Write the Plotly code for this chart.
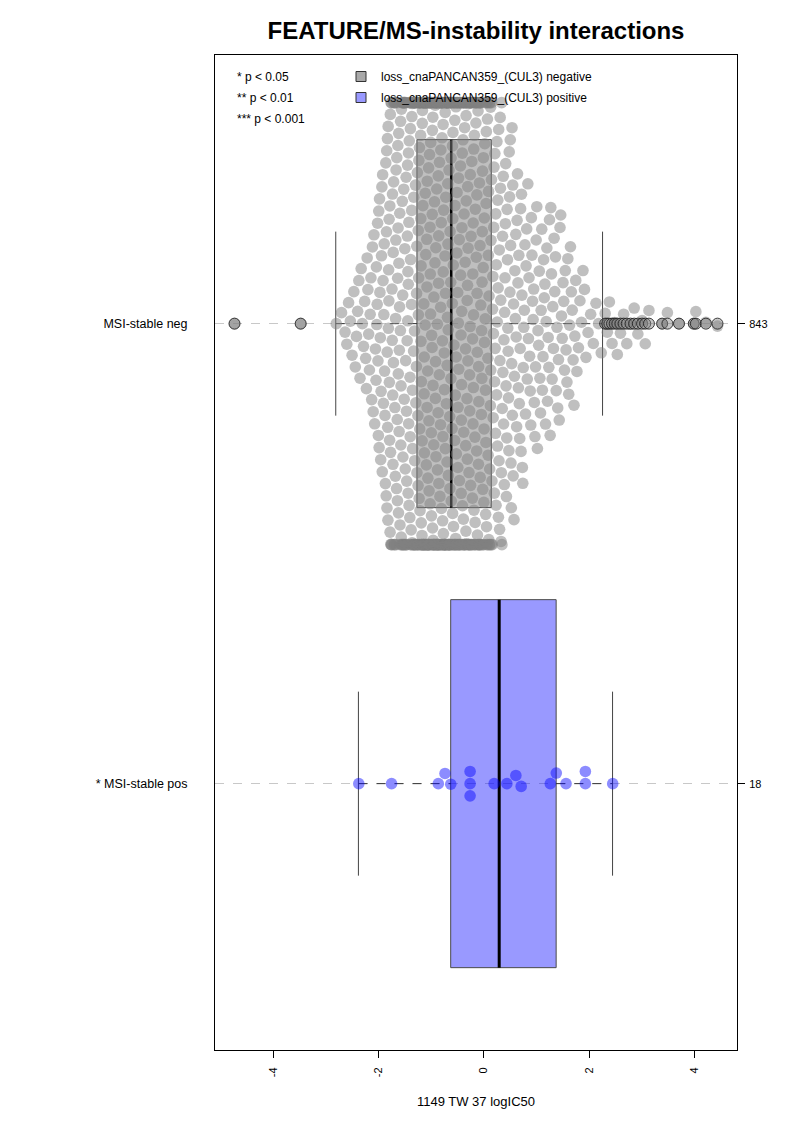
import numpy as np
import plotly.graph_objects as go

# ---------------- data ----------------
group_labels = ["MSI-stable neg", "* MSI-stable pos"]
group_pos = [2, 1]

# MSI-stable neg (loss_cnaPANCAN359_(CUL3) negative): histogram of the swarm, logIC50
neg_bin_edges = [-2.85, -2.65, -2.45, -2.25, -2.05, -1.85, -1.65, -1.45, -1.25, -1.05,
                 -0.85, -0.65, -0.45, -0.25, -0.05, 0.15, 0.35, 0.55, 0.75, 0.95,
                 1.15, 1.35, 1.55, 1.75, 1.95, 2.25]
neg_bin_counts = [2, 6, 9, 14, 27, 44, 50, 56, 70, 70,
                  70, 62, 58, 54, 47, 36, 30, 24, 18, 17,
                  16, 14, 12, 7, 6]
# points beyond the whiskers (drawn as outlined circles)
neg_outliers = [-4.73, -3.475, 2.30, 2.34, 2.38, 2.43, 2.48, 2.53, 2.59, 2.65, 2.71,
                2.78, 2.85, 2.92, 3.00, 3.06, 3.13, 3.38, 3.48, 3.70, 3.98, 4.02,
                4.21, 4.43]

# MSI-stable pos (loss_cnaPANCAN359_(CUL3) positive)
pos_values = [-2.373, -1.751, -0.865, -0.738, -0.629, -0.262, -0.262, -0.262, 0.194,
              0.435, 0.606, 0.707, 1.259, 1.373, 1.557, 1.924, 1.924, 2.443]

# box statistics per group (neg, pos)
box_q1 = [-1.27, -0.63]
box_median = [-0.62, 0.29]
box_q3 = [0.14, 1.37]
whisker_lo = [-2.81, -2.38]
whisker_hi = [2.25, 2.44]

legend_names = ["loss_cnaPANCAN359_(CUL3) negative", "loss_cnaPANCAN359_(CUL3) positive"]
p_notes = ["* p < 0.05", "** p < 0.01", "*** p < 0.001"]
x_ticks = [-4, -2, 0, 2, 4]

# ---------------- helpers ----------------
neg_core = []
for a, b, n in zip(neg_bin_edges[:-1], neg_bin_edges[1:], neg_bin_counts):
    for k in range(n):
        neg_core.append(a + (k + 0.5) * (b - a) / n)
neg_values = neg_core + neg_outliers

W, H = 793, 1122
PL, PR, PT, PB = 215, 737, 55, 1050        # plot frame in page pixels
ML, MT, MR, MB = PL, PT, W - PR, H - PB
XR = [-5.10, 4.80]
YR = [0.421, 2.584]
px_x = (PR - PL) / (XR[1] - XR[0])
px_y = (PB - PT) / (YR[1] - YR[0])
D = 12.2          # swarm spacing in px
GUTTER = 221.0    # corral half width in px


def swarm(values):
    x = np.asarray(values, float) * px_x
    order = np.argsort(x, kind="stable")
    xs = x[order]
    ys = np.zeros(len(xs))
    start = 0
    for i in range(1, len(xs)):
        xi = xs[i]
        while xi - xs[start] >= D:
            start += 1
        if start >= i:
            continue
        pxv = xs[start:i]
        pyv = ys[start:i]
        o = np.argsort(np.abs(pyv), kind="stable")
        pxv, pyv = pxv[o], pyv[o]
        off = np.sqrt(np.maximum(D * D - (xi - pxv) ** 2, 0))
        cand = np.concatenate([[0.0], pyv + off, pyv - off])
        bad = np.any(np.abs(cand[:, None] - pyv[None, :]) < off[None, :] - 1e-7, axis=1)
        cand = np.where(bad, np.inf, cand)
        ys[i] = cand[np.argmin(np.abs(cand))]
    out = np.empty_like(ys)
    out[order] = ys
    out = np.clip(out, -GUTTER, GUTTER)
    return out / px_y


neg_y = group_pos[0] + swarm(neg_values)
pos_y = group_pos[1] + swarm(pos_values)

fig = go.Figure()

box_fill = ["rgba(128,128,128,0.5)", "rgba(0,0,255,0.4)"]
median_w = [2.5, 3]
for g in range(2):
    p = group_pos[g]
    fig.add_trace(go.Scatter(
        x=[box_q1[g], box_q3[g], box_q3[g], box_q1[g], box_q1[g]],
        y=[p - 0.4, p - 0.4, p + 0.4, p + 0.4, p - 0.4],
        mode="lines", fill="toself", fillcolor=box_fill[g],
        line=dict(color="#4a4a4a", width=1), showlegend=False, hoverinfo="skip"))
    fig.add_trace(go.Scatter(
        x=[whisker_lo[g], box_q1[g], None, box_q3[g], whisker_hi[g]],
        y=[p, p, None, p, p], mode="lines",
        line=dict(color="rgba(0,0,0,0.75)", width=1, dash="dash"),
        showlegend=False, hoverinfo="skip"))
    fig.add_trace(go.Scatter(
        x=[whisker_lo[g], whisker_lo[g], None, whisker_hi[g], whisker_hi[g]],
        y=[p - 0.2, p + 0.2, None, p - 0.2, p + 0.2], mode="lines",
        line=dict(color="#444444", width=1), showlegend=False, hoverinfo="skip"))
    fig.add_trace(go.Scatter(
        x=[box_median[g], box_median[g]], y=[p - 0.4, p + 0.4], mode="lines",
        line=dict(color="black", width=median_w[g]), showlegend=False, hoverinfo="skip"))

fig.add_trace(go.Scatter(
    x=neg_values, y=neg_y, mode="markers",
    marker=dict(size=11.6, color="rgba(128,128,128,0.5)", line=dict(width=0)),
    showlegend=False))
fig.add_trace(go.Scatter(
    x=pos_values, y=pos_y, mode="markers",
    marker=dict(size=11.6, color="rgba(0,0,255,0.45)", line=dict(width=0)),
    showlegend=False))
fig.add_trace(go.Scatter(
    x=neg_outliers, y=[group_pos[0]] * len(neg_outliers), mode="markers",
    marker=dict(size=11, color="rgba(128,128,128,0.45)",
                line=dict(width=1, color="rgba(30,30,30,0.85)")),
    showlegend=False))

# legend entries
leg_cols = ["#a9a9a9", "#9999ff"]
for i in range(2):
    fig.add_trace(go.Scatter(
        x=[None], y=[None], mode="markers", name=legend_names[i],
        legendgroup=str(i), yaxis="y2",
        marker=dict(symbol="square", size=10, color=leg_cols[i],
                    line=dict(color="#333333", width=1))))

font = "Liberation Sans, Arial, Helvetica, sans-serif"
pw, ph = PR - PL, PB - PT
ann = []
for i, t in enumerate(p_notes):
    ann.append(dict(text=t, xref="paper", yref="paper",
                    x=(235 - PL) / pw,
                    y=1 - (77 + 21 * i - PT) / ph,
                    xanchor="left", yanchor="middle", showarrow=False,
                    font=dict(size=12, color="black", family=font)))

fig.update_layout(
    width=W, height=H,
    margin=dict(l=ML, r=MR, t=MT, b=MB, pad=0),
    paper_bgcolor="white", plot_bgcolor="white",
    font=dict(family=font, color="black"),
    title=dict(text="<b>FEATURE/MS-instability interactions</b>",
               x=(ML + pw / 2) / W, xanchor="center",
               y=1 - 31 / H, yanchor="middle", yref="container",
               font=dict(size=24, color="black", family=font)),
    xaxis=dict(range=XR, tickvals=x_ticks, ticktext=[str(v) for v in x_ticks],
               ticks="outside", ticklen=7, tickcolor="black", tickangle=-90,
               tickfont=dict(size=11), ticklabelstandoff=5,
               showgrid=False, zeroline=False,
               showline=True, linecolor="black", linewidth=1, mirror=True,
               title=dict(text="1149 TW 37 logIC50", font=dict(size=13), standoff=20)),
    yaxis=dict(range=YR, tickvals=group_pos, ticktext=group_labels,
               ticks="", tickfont=dict(size=12.5), ticklabelstandoff=24,
               showgrid=True, gridcolor="#c8c8c8", griddash="dash", gridwidth=1,
               zeroline=False, showline=True, linecolor="black", linewidth=1, mirror=True),
    yaxis2=dict(range=YR, overlaying="y", side="right", anchor="x",
                tickvals=group_pos,
                ticktext=[str(len(neg_values)), str(len(pos_values))],
                ticks="outside", ticklen=7, tickcolor="black", tickfont=dict(size=11),
                ticklabelstandoff=2,
                showgrid=False, zeroline=False, showline=False),
    legend=dict(x=(341 - PL) / pw, y=1 - (62 - PT) / ph,
                xanchor="left", yanchor="top", bgcolor="rgba(0,0,0,0)",
                font=dict(size=12, color="black"), tracegroupgap=2,
                borderwidth=0),
    annotations=ann,
)

fig.write_html(
    "out.html",
    config={"displayModeBar": False},
    post_script="document.body.style.margin='0';"
                "document.documentElement.style.overflow='hidden';"
                "document.body.style.overflow='hidden';")
